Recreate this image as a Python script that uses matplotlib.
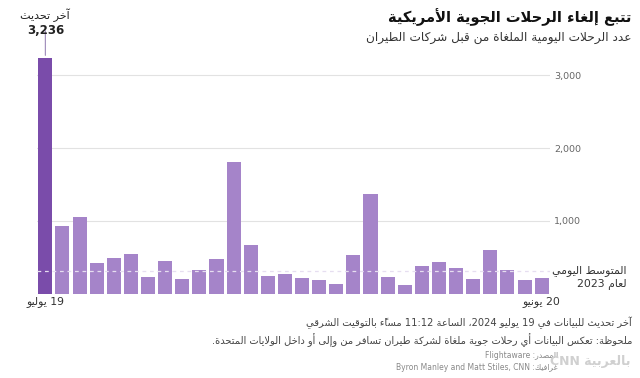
import matplotlib
matplotlib.use("Agg")
import matplotlib.pyplot as plt

# daily cancelled US flights, 20 June -> 19 July 2024 (oldest first)
values = [220, 185, 330, 605, 200, 350, 435, 375, 120, 230,
          1370, 535, 130, 185, 210, 265, 245, 670, 1805, 475,
          325, 205, 445, 230, 545, 490, 415, 1055, 930, 3236]
avg_2023 = 310
y_ticks = [1000, 2000, 3000]
tick_labels = ["20 يونيو", "19 يوليو"]

# --- tiny Arabic shaper + bidi (matplotlib draws chars in string order) ---
DUAL = {'ئ': 0xFE89, 'ب': 0xFE8F, 'ت': 0xFE95, 'ث': 0xFE99, 'ج': 0xFE9D, 'ح': 0xFEA1,
        'خ': 0xFEA5, 'س': 0xFEB1, 'ش': 0xFEB5, 'ص': 0xFEB9, 'ض': 0xFEBD, 'ط': 0xFEC1,
        'ظ': 0xFEC5, 'ع': 0xFEC9, 'غ': 0xFECD, 'ف': 0xFED1, 'ق': 0xFED5, 'ك': 0xFED9,
        'ل': 0xFEDD, 'م': 0xFEE1, 'ن': 0xFEE5, 'ه': 0xFEE9, 'ي': 0xFEF1}
RIGHT = {'آ': 0xFE81, 'أ': 0xFE83, 'ؤ': 0xFE85, 'إ': 0xFE87, 'ا': 0xFE8D, 'ة': 0xFE93,
         'د': 0xFEA9, 'ذ': 0xFEAB, 'ر': 0xFEAD, 'ز': 0xFEAF, 'و': 0xFEED, 'ى': 0xFEEF}
NONJOIN = {'ء': 0xFE80}
LAM_ALEF = {'آ': 0xFEF5, 'أ': 0xFEF7, 'إ': 0xFEF9, 'ا': 0xFEFB}


def is_mark(c):
    return '\u064b' <= c <= '\u065f'


def shape(text):
    # returns glyph clusters in logical order
    letters = [i for i, c in enumerate(text) if not is_mark(c)]
    out = []
    k = 0
    while k < len(letters):
        i = letters[k]
        c = text[i]
        prev = text[letters[k - 1]] if k > 0 else ''
        nxt = text[letters[k + 1]] if k + 1 < len(letters) else ''
        link_prev = int(prev in DUAL)
        if c == 'ل' and nxt in LAM_ALEF:
            end = letters[k + 2] if k + 2 < len(letters) else len(text)
            out.append(chr(LAM_ALEF[nxt] + link_prev) + text[letters[k + 1] + 1:end])
            k += 2
            continue
        end = letters[k + 1] if k + 1 < len(letters) else len(text)
        marks = text[i + 1:end]
        if c in DUAL:
            link_next = int(nxt in DUAL or nxt in RIGHT)
            g = chr(DUAL[c] + link_prev + 2 * link_next)
        elif c in RIGHT:
            g = chr(RIGHT[c] + link_prev)
        elif c in NONJOIN:
            g = chr(NONJOIN[c])
        else:
            g = c
        out.append(g + marks)
        k += 1
    return out


def direction(cl):
    c = cl[0]
    if '\u0600' <= c <= '\u06ff' or '\ufb50' <= c <= '\ufeff':
        return 'R'
    if c.isascii() and c.isalnum():
        return 'L'
    return 'N'


def ar(text):
    cls = shape(text)
    kinds = [direction(c) for c in cls]
    resolved = []
    for i, t in enumerate(kinds):
        if t == 'N':
            before = next((kinds[j] for j in range(i - 1, -1, -1) if kinds[j] != 'N'), 'R')
            after = next((kinds[j] for j in range(i + 1, len(kinds)) if kinds[j] != 'N'), 'R')
            t = 'L' if before == 'L' and after == 'L' else 'R'
        resolved.append(t)
    runs = []
    for c, t in zip(cls, resolved):
        if runs and runs[-1][0] == t:
            runs[-1][1].append(c)
        else:
            runs.append([t, [c]])
    parts = []
    for t, items in reversed(runs):
        parts.append(''.join(reversed(items)) if t == 'R' else ''.join(items))
    return ''.join(parts)


W, H = 640, 378


def fx(px):
    return px / W


def fy(py):
    return 1 - py / H


fig = plt.figure(figsize=(6.4, 3.78), dpi=100)
ax = fig.add_axes([fx(36.8), fy(293.5), fx(550.2 - 36.8), 240 / H])

x = list(range(len(values)))
colors = ['#a584c9'] * (len(values) - 1) + ['#7a4caa']
ax.bar(x, values, width=0.82, color=colors, zorder=2)
ax.axhline(avg_2023, color='#e6def0', linestyle=(0, (3, 3)), linewidth=0.9, zorder=3)

ax.set_xlim(len(values) - 0.5, -0.5)
ax.set_ylim(0, 3300)
ax.set_xticks([0, len(values) - 1])
ax.set_xticklabels([ar(t) for t in tick_labels], fontsize=7.8, color='#333333')
ax.tick_params(axis='x', length=0, pad=2)
ax.yaxis.tick_right()
ax.set_yticks(y_ticks)
ax.set_yticklabels([f"{v:,}" for v in y_ticks], fontsize=6.8, color='#666666')
ax.tick_params(axis='y', length=0, pad=3)
ax.grid(axis='y', color='#e2e2e2', linewidth=0.8, zorder=0)
for s in ax.spines.values():
    s.set_visible(False)

# titles
fig.text(fx(631), fy(17), ar("تتبع إلغاء الرحلات الجوية الأمريكية"), ha='right', va='center',
         fontsize=10.5, fontweight='bold', color='#111111')
fig.text(fx(631), fy(38), ar("عدد الرحلات اليومية الملغاة من قبل شركات الطيران"), ha='right',
         va='center', fontsize=8.7, color='#333333')

# latest value callout
fig.text(fx(45), fy(15), ar("آخر تحديث"), ha='center', va='center', fontsize=8, color='#222222')
fig.text(fx(46), fy(31), f"{values[-1]:,}", ha='center', va='center', fontsize=8.5,
         fontweight='bold', color='#222222')
ax.annotate('', xy=(len(values) - 1, values[-1]), xytext=(len(values) - 1, 3650),
            arrowprops=dict(arrowstyle='-', color='#9c88b8', linewidth=0.8),
            annotation_clip=False)

# average label
fig.text(fx(627), fy(271), ar("المتوسط اليومي"), ha='right', va='center', fontsize=7.8,
         color='#333333')
fig.text(fx(627), fy(285), ar("لعام 2023"), ha='right', va='center', fontsize=7.8,
         color='#333333')

# notes
fig.text(fx(632), fy(323), ar("آخر تحديث للبيانات في 19 يوليو 2024، الساعة 11:12 مساءً بالتوقيت الشرقي"),
         ha='right', va='center', fontsize=7.1, color='#444444')
fig.text(fx(632), fy(340), ar("ملحوظة: تعكس البيانات أي رحلات جوية ملغاة لشركة طيران تسافر من وإلى أو داخل الولايات المتحدة."),
         ha='right', va='center', fontsize=7.1, color='#444444')
fig.text(fx(558), fy(355), ar("المصدر: Flightaware"), ha='right', va='center', fontsize=5.5,
         color='#888888')
fig.text(fx(558), fy(367), ar("غرافيك: Byron Manley and Matt Stiles, CNN"), ha='right',
         va='center', fontsize=5.5, color='#888888')
fig.text(fx(630), fy(361), "CNN " + ar("بالعربية"), ha='right', va='center', fontsize=9,
         fontweight='bold', color='#d0d0d0')

fig.savefig("out.png", dpi=100)
